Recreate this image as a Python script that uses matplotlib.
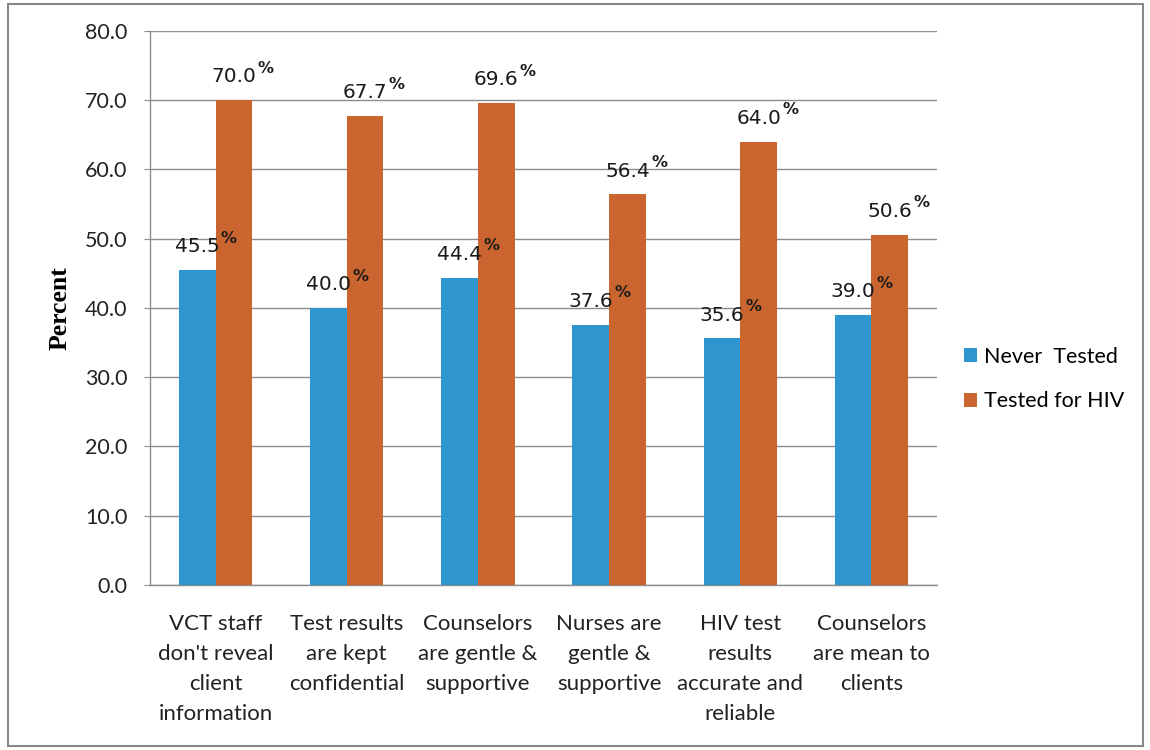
import matplotlib
matplotlib.use("Agg")
import matplotlib.pyplot as plt
import numpy as np

categories = [
    "VCT staff\ndon't reveal\nclient\ninformation",
    "Test results\nare kept\nconfidential",
    "Counselors\nare gentle &\nsupportive",
    "Nurses are\ngentle &\nsupportive",
    "HIV test\nresults\naccurate and\nreliable",
    "Counselors\nare mean to\nclients",
]
never_tested = [45.5, 40.0, 44.4, 37.6, 35.6, 39.0]
tested_hiv = [70.0, 67.7, 69.6, 56.4, 64.0, 50.6]
series_names = ["Never  Tested", "Tested for HIV"]
yticks = np.arange(0, 81, 10)

blue = "#2E95CF"
orange = "#CB6530"
grid_col = "#8C8C8C"

plt.rcParams['font.family'] = ['Lato', 'DejaVu Sans']

fig = plt.figure(figsize=(11.5, 7.5), dpi=100)
ax = fig.add_axes([0.1304, 0.22, 0.6844, 0.7387])

x = np.arange(len(categories))
w = 0.28
b1 = ax.bar(x - w / 2, never_tested, w, color=blue, label=series_names[0], zorder=3)
b2 = ax.bar(x + w / 2, tested_hiv, w, color=orange, label=series_names[1], zorder=3)

ax.set_xlim(-0.5, len(categories) - 0.5)
ax.set_ylim(0, 80)
ax.set_yticks(yticks)
ax.set_yticklabels([f"{v:.1f}" for v in yticks], fontsize=15.5, color="#222222")
ax.set_xticks(x)
ax.set_xticklabels(categories, fontsize=16, color="#222222", linespacing=1.62)
ax.tick_params(axis='x', length=0, pad=21)
ax.tick_params(axis='y', length=4, color=grid_col, pad=12)
ax.yaxis.grid(True, color=grid_col, linewidth=1, zorder=0)

for side in ['top', 'right']:
    ax.spines[side].set_visible(False)
for side in ['left', 'bottom']:
    ax.spines[side].set_color(grid_col)
    ax.spines[side].set_linewidth(1)

ax.set_ylabel("Percent", fontsize=18.5, fontweight='bold',
              family=['Liberation Serif'], labelpad=10)

for bars in (b1, b2):
    for bar in bars:
        h = bar.get_height()
        t = ax.annotate(f"{h:.1f}", xy=(bar.get_x() + bar.get_width() / 2, h),
                        xytext=(0, 10), textcoords='offset points',
                        ha='center', va='bottom', fontsize=14.5,
                        family=['DejaVu Sans'], color="#1a1a1a")
        ax.annotate("%", xy=(1, 0.55), xycoords=t, xytext=(1, 0),
                    textcoords='offset points', ha='left', va='bottom',
                    fontsize=11.5, fontweight='bold', family=['DejaVu Sans'],
                    color="#1a1a1a")

ax.legend(loc='center left', bbox_to_anchor=(1.01, 0.372), frameon=False,
          fontsize=15.5, handlelength=0.6, handleheight=0.6, handletextpad=0.3,
          labelspacing=1.15)

border = plt.Rectangle((0.007, 0.005), 0.987, 0.99, transform=fig.transFigure,
                       fill=False, edgecolor="#888888", linewidth=1.5)
fig.patches.append(border)

fig.savefig("out.png", dpi=100)
